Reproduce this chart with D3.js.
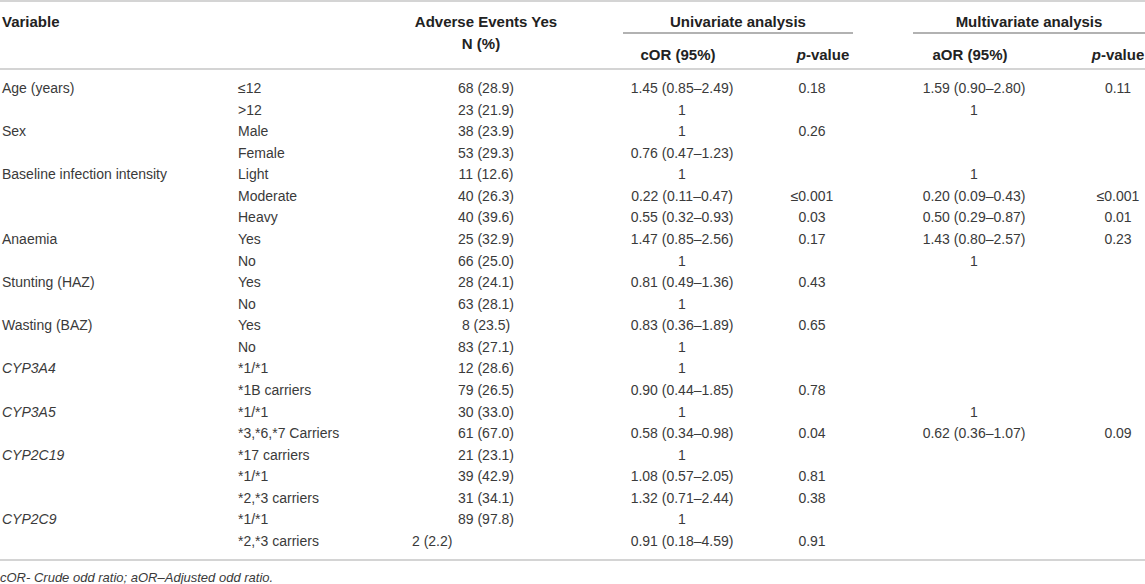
<!DOCTYPE html>
<html lang="en">
<head>
    <meta charset="UTF-8">
    <title>Adverse events table</title>
    <script src="https://cdn.jsdelivr.net/npm/d3@7"></script>
    <style>
        body {
            margin: 0;
            background: white;
        }
        svg {
            display: block;
            font-family: "Liberation Sans", Arial, sans-serif;
        }
        .cell {
            font-size: 14px;
            fill: #3a3a3a;
        }
        .head {
            font-size: 15px;
            font-weight: bold;
            fill: #222;
        }
        .rule {
            stroke: #d4d4d4;
            stroke-width: 2;
        }
        .subrule {
            stroke: #666;
            stroke-width: 1.2;
        }
    </style>
</head>
<body>
    <svg id="canvas" width="1145" height="584"></svg>
    <script>
        // table contents, one entry per row
        const variables = ["Age (years)", "", "Sex", "", "Baseline infection intensity", "", "",
            "Anaemia", "", "Stunting (HAZ)", "", "Wasting (BAZ)", "", "CYP3A4", "",
            "CYP3A5", "", "CYP2C19", "", "", "CYP2C9", ""]
        const levels = ["≤12", ">12", "Male", "Female", "Light", "Moderate", "Heavy",
            "Yes", "No", "Yes", "No", "Yes", "No", "*1/*1", "*1B carriers",
            "*1/*1", "*3,*6,*7 Carriers", "*17 carriers", "*1/*1", "*2,*3 carriers",
            "*1/*1", "*2,*3 carriers"]
        const adverseN = ["68 (28.9)", "23 (21.9)", "38 (23.9)", "53 (29.3)", "11 (12.6)",
            "40 (26.3)", "40 (39.6)", "25 (32.9)", "66 (25.0)", "28 (24.1)", "63 (28.1)",
            "8 (23.5)", "83 (27.1)", "12 (28.6)", "79 (26.5)", "30 (33.0)", "61 (67.0)",
            "21 (23.1)", "39 (42.9)", "31 (34.1)", "89 (97.8)", "2 (2.2)"]
        const cOR = ["1.45 (0.85–2.49)", "1", "1", "0.76 (0.47–1.23)", "1",
            "0.22 (0.11–0.47)", "0.55 (0.32–0.93)", "1.47 (0.85–2.56)", "1",
            "0.81 (0.49–1.36)", "1", "0.83 (0.36–1.89)", "1", "1", "0.90 (0.44–1.85)",
            "1", "0.58 (0.34–0.98)", "1", "1.08 (0.57–2.05)", "1.32 (0.71–2.44)",
            "1", "0.91 (0.18–4.59)"]
        const cP = ["0.18", "", "0.26", "", "", "≤0.001", "0.03", "0.17", "", "0.43", "",
            "0.65", "", "", "0.78", "", "0.04", "", "0.81", "0.38", "", "0.91"]
        const aOR = ["1.59 (0.90–2.80)", "1", "", "", "1", "0.20 (0.09–0.43)",
            "0.50 (0.29–0.87)", "1.43 (0.80–2.57)", "1", "", "", "", "", "", "",
            "1", "0.62 (0.36–1.07)", "", "", "", "", ""]
        const aP = ["0.11", "", "", "", "", "≤0.001", "0.01", "0.23", "", "", "", "",
            "", "", "", "", "0.09", "", "", "", "", ""]
        const footnote = "cOR- Crude odd ratio; aOR–Adjusted odd ratio."

        const svg = d3.select("#canvas")

        // row positions
        const rowY = d3.scalePoint()
            .domain(d3.range(variables.length))
            .range([88, 541])

        // column layout
        const columns = [
            {values: variables, x: 2, anchor: "start"},
            {values: levels, x: 238, anchor: "start"},
            {values: adverseN, x: 486, anchor: "middle"},
            {values: cOR, x: 682, anchor: "middle"},
            {values: cP, x: 812, anchor: "middle"},
            {values: aOR, x: 974, anchor: "middle"},
            {values: aP, x: 1118, anchor: "middle"}
        ]

        // horizontal rules
        svg.append("line").attr("class", "rule")
            .attr("x1", 0).attr("x2", 1145).attr("y1", 1).attr("y2", 1)
        svg.append("line").attr("class", "rule")
            .attr("x1", 0).attr("x2", 1145).attr("y1", 69).attr("y2", 69)
        svg.append("line").attr("class", "rule")
            .attr("x1", 0).attr("x2", 1145).attr("y1", 560).attr("y2", 560)

        // group headers with underline
        const groups = [
            {label: "Univariate analysis", x1: 623, x2: 853},
            {label: "Multivariate analysis", x1: 913, x2: 1145}
        ]
        groups.forEach(g => {
            svg.append("text").attr("class", "head")
                .attr("x", (g.x1 + g.x2) / 2).attr("y", 21)
                .attr("text-anchor", "middle").attr("dominant-baseline", "central")
                .text(g.label)
            svg.append("line").attr("class", "subrule")
                .attr("x1", g.x1).attr("x2", g.x2).attr("y1", 33).attr("y2", 33)
        })

        // column headers
        const heads = [
            {text: "Variable", x: 2, y: 21, anchor: "start"},
            {text: "Adverse Events Yes", x: 486, y: 21, anchor: "middle"},
            {text: "N (%)", x: 481, y: 43, anchor: "middle"},
            {text: "cOR (95%)", x: 678, y: 54, anchor: "middle"},
            {text: "p|-value", x: 823, y: 54, anchor: "middle"},
            {text: "aOR (95%)", x: 970, y: 54, anchor: "middle"},
            {text: "p|-value", x: 1118, y: 54, anchor: "middle"}
        ]
        heads.forEach(h => {
            const t = svg.append("text").attr("class", "head")
                .attr("x", h.x).attr("y", h.y)
                .attr("text-anchor", h.anchor).attr("dominant-baseline", "central")
            if (h.text.includes("|")) {
                const parts = h.text.split("|")
                t.append("tspan").style("font-style", "italic").text(parts[0])
                t.append("tspan").text(parts[1])
            } else {
                t.text(h.text)
            }
        })

        // body cells
        columns.forEach((col, ci) => {
            svg.append("g")
                .selectAll("text")
                .data(col.values.map((v, i) => ({v: v, i: i})).filter(d => d.v !== ""))
                .join("text")
                .attr("class", "cell")
                .attr("x", d => (ci === 2 && d.v === "2 (2.2)") ? 412 : col.x)
                .attr("y", d => rowY(d.i))
                .attr("text-anchor", d => (ci === 2 && d.v === "2 (2.2)") ? "start" : col.anchor)
                .attr("dominant-baseline", "central")
                .style("font-style", d => (ci === 0 && d.v.startsWith("CYP")) ? "italic" : null)
                .text(d => d.v)
        })

        // footnote
        svg.append("text").attr("class", "cell")
            .attr("x", 0).attr("y", 577)
            .attr("dominant-baseline", "central")
            .style("font-size", "13px")
            .style("font-style", "italic")
            .text(footnote)
    </script>
</body>
</html>
